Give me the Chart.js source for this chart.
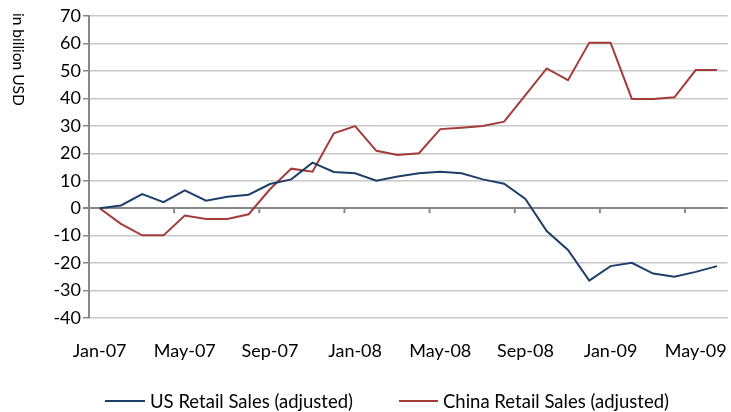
<!DOCTYPE html>
<html>
<head>
<meta charset="utf-8">
<script src="https://cdn.jsdelivr.net/npm/chart.js@4"></script>
<style>
  body { margin: 0; background: #fff; }
  canvas { display: block; }
</style>
</head>
<body>
<canvas id="retailChart" width="731" height="412"></canvas>
<script>
// months Jan-07 .. Jun-09
const months = [
  "Jan-07", "Feb-07", "Mar-07", "Apr-07", "May-07", "Jun-07", "Jul-07", "Aug-07", "Sep-07", "Oct-07", "Nov-07", "Dec-07",
  "Jan-08", "Feb-08", "Mar-08", "Apr-08", "May-08", "Jun-08", "Jul-08", "Aug-08", "Sep-08", "Oct-08", "Nov-08", "Dec-08",
  "Jan-09", "Feb-09", "Mar-09", "Apr-09", "May-09", "Jun-09"
];

// in billion USD
const usSales = [
  0, 1, 5.1, 2.2, 6.5, 2.7, 4.2, 4.9, 8.8, 10.5, 16.6, 13.2,
  12.7, 10, 11.5, 12.7, 13.3, 12.7, 10.5, 8.9, 3.4, -8.3, -15.2, -26.4,
  -21.1, -19.9, -23.8, -25, -23.2, -21.1
];
const chinaSales = [
  0, -5.7, -9.9, -9.9, -2.7, -3.9, -3.9, -2.2, 6.9, 14.4, 13.3, 27.3,
  29.9, 20.9, 19.4, 20, 28.8, 29.3, 29.9, 31.5, 41.2, 50.9, 46.6, 60.3,
  60.3, 39.8, 39.8, 40.4, 50.3, 50.3
];

const seriesNames = ["US Retail Sales (adjusted)", "China Retail Sales (adjusted)"];
const seriesColors = ["#1f3f6b", "#a33b3a"];
const FONT = "Lato, 'Open Sans', sans-serif";

// axis title, zero-line ticks and legend, Excel style
const extras = {
  id: "extras",
  beforeDatasetsDraw(chart) {
    const ctx = chart.ctx;
    const x = chart.scales.x;
    const y0 = chart.scales.y.getPixelForValue(0);
    ctx.save();
    ctx.strokeStyle = "#888";
    ctx.lineWidth = 2;
    for (let i = 4; i < months.length; i += 4) {
      const bx = (x.getPixelForValue(i - 1) + x.getPixelForValue(i)) / 2;
      ctx.beginPath();
      ctx.moveTo(bx, y0);
      ctx.lineTo(bx, y0 + 5);
      ctx.stroke();
    }
    ctx.restore();
  },
  afterDraw(chart) {
    const ctx = chart.ctx;
    ctx.save();
    // y title, reads top to bottom
    ctx.translate(18, 13);
    ctx.rotate(Math.PI / 2);
    ctx.fillStyle = "#000";
    ctx.font = "15.5px " + FONT;
    ctx.textAlign = "left";
    ctx.textBaseline = "middle";
    ctx.fillText("in billion USD", 0, 0);
    ctx.restore();

    // legend
    const items = [
      { x1: 105, x2: 145, tx: 150 },
      { x1: 399, x2: 438, tx: 443 }
    ];
    ctx.save();
    ctx.font = "18.5px " + FONT;
    ctx.textBaseline = "middle";
    ctx.fillStyle = "#000";
    items.forEach((it, k) => {
      ctx.strokeStyle = seriesColors[k];
      ctx.lineWidth = 2;
      ctx.beginPath();
      ctx.moveTo(it.x1, 401);
      ctx.lineTo(it.x2, 401);
      ctx.stroke();
      ctx.fillText(seriesNames[k], it.tx, 402);
    });
    ctx.restore();
  }
};

new Chart(document.getElementById("retailChart"), {
  type: "line",
  data: {
    labels: months,
    datasets: [
      {
        label: seriesNames[0],
        data: usSales,
        borderColor: seriesColors[0],
        borderWidth: 2,
        pointRadius: 0,
        tension: 0
      },
      {
        label: seriesNames[1],
        data: chinaSales,
        borderColor: seriesColors[1],
        borderWidth: 2,
        pointRadius: 0,
        tension: 0
      }
    ]
  },
  options: {
    responsive: false,
    animation: false,
    layout: { padding: { top: 16, right: 0, left: 0, bottom: 0 } },
    plugins: {
      legend: { display: false },
      tooltip: { enabled: false }
    },
    scales: {
      x: {
        offset: true,
        grid: { display: false },
        border: { display: false },
        ticks: {
          autoSkip: false,
          maxRotation: 0,
          padding: 14,
          color: "#000",
          font: { family: FONT, size: 18 },
          callback: (v, i) => (i % 4 === 0 ? months[i] : "")
        },
        afterFit: (scale) => { scale.height = 94; }
      },
      y: {
        min: -40,
        max: 70,
        ticks: {
          stepSize: 10,
          padding: 2,
          color: "#000",
          font: { family: FONT, size: 18 }
        },
        grid: {
          color: (c) => (c.tick && c.tick.value === 0 ? "#888" : "#c8c8c8"),
          lineWidth: (c) => (c.tick && c.tick.value === 0 ? 2 : 1.5),
          tickColor: "#888",
          tickLength: 6
        },
        border: { color: "#888", width: 2 },
        afterFit: (scale) => { scale.width = 89; }
      }
    }
  },
  plugins: [extras]
});
</script>
</body>
</html>
